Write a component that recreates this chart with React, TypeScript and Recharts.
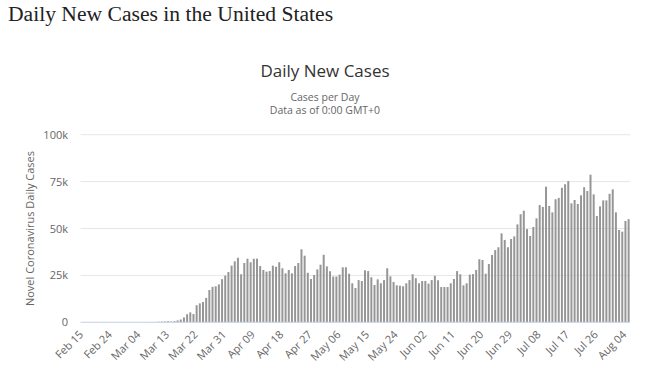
import React from "react";
import { BarChart, Bar, XAxis, YAxis, CartesianGrid } from "recharts";

// Category table: month, first day, last day (Feb 15 2020 .. Aug 05 2020)
const monthSpans: [string, number, number][] = [
  ["Feb", 15, 29],
  ["Mar", 1, 31],
  ["Apr", 1, 30],
  ["May", 1, 31],
  ["Jun", 1, 30],
  ["Jul", 1, 31],
  ["Aug", 1, 5],
];

const dates: string[] = [];
monthSpans.forEach(([m, a, b]) => {
  for (let d = a; d <= b; d++) dates.push(`${m} ${d < 10 ? "0" + d : d}`);
});

// Daily new cases
const cases: number[] = [
  // Feb 15 - Feb 29
  0, 0, 0, 0, 0, 0, 2, 0, 0, 0, 0, 0, 1, 1, 3,
  // Mar 01 - Mar 31
  8, 20, 24, 32, 73, 80, 104, 128, 157, 286, 389, 440, 578, 400, 600, 1000,
  1500, 2600, 4300, 5300, 4400, 9100, 10100, 10800, 13000, 17200, 18900, 19200,
  20200, 23000, 24900,
  // Apr 01 - Apr 30
  26800, 30200, 32500, 34400, 25600, 31600, 33900, 32000, 33900, 33900, 30000,
  27900, 27000, 27300, 30200, 29600, 32000, 28800, 26100, 27900, 26100, 30000,
  31600, 38900, 35500, 26400, 23100, 25200, 28200, 30700,
  // May 01 - May 31
  36000, 29800, 27200, 24400, 24400, 25400, 29300, 29300, 25900, 20800, 18300,
  22500, 22000, 27700, 27300, 24000, 19900, 22900, 20800, 22500, 28800, 24500,
  21500, 19700, 19500, 19200, 20800, 22500, 25600, 23500, 20800,
  // Jun 01 - Jun 30
  22000, 22000, 20600, 22500, 24800, 22400, 18800, 18800, 18800, 20800, 23100,
  27300, 25600, 19700, 20800, 25400, 25700, 27900, 33600, 33200, 25900, 31100,
  35900, 38500, 40000, 47400, 43900, 40000, 44400, 45800,
  // Jul 01 - Jul 31
  52200, 57600, 59500, 49700, 46000, 50800, 55400, 62500, 61500, 72300, 62000,
  58600, 65600, 66300, 71700, 73600, 75300, 63400, 65200, 63100, 67700, 72000,
  70000, 78700, 68200, 56700, 61800, 65000, 65000, 68500, 70900,
  // Aug 01 - Aug 05
  58600, 49200, 48300, 54000, 55000,
];

const yTicks: number[] = [0, 25000, 50000, 75000, 100000];
const yTickLabels: string[] = ["0", "25k", "50k", "75k", "100k"];

const data = dates.map((date, i) => ({ date, cases: cases[i] }));

const FONT = "'Open Sans', sans-serif";

const XTick = (props: any) => {
  const { x, y, payload } = props;
  const px = x + 2;
  const py = y + 13;
  return (
    <text
      x={px}
      y={py}
      transform={`rotate(-45 ${px} ${py})`}
      textAnchor="end"
      fontSize={11}
      fill="#666666"
      fontFamily={FONT}
    >
      {payload.value}
    </text>
  );
};

const YTick = (props: any) => {
  const { y, payload } = props;
  const idx = yTicks.indexOf(payload.value);
  return (
    <text
      x={68}
      y={y + 4}
      textAnchor="end"
      fontSize={11}
      fill="#666666"
      fontFamily={FONT}
    >
      {idx >= 0 ? yTickLabels[idx] : payload.value}
    </text>
  );
};

export default function App() {
  return (
    <div style={{ position: "absolute", left: 0, top: 0, width: 659, height: 372, background: "#fff" }}>
      <div
        style={{
          position: "absolute",
          left: 8,
          top: 2,
          fontFamily: "'Liberation Serif', 'Times New Roman', serif",
          fontSize: 21.6,
          color: "#222",
          whiteSpace: "nowrap",
          lineHeight: "normal",
        }}
      >
        Daily New Cases in the United States
      </div>
      <div style={{ position: "absolute", left: 0, top: 0 }}>
        <BarChart
          width={659}
          height={372}
          data={data}
          margin={{ top: 134.7, right: 29, bottom: 0, left: 20.5 }}
          barCategoryGap="25%"
        >
          <CartesianGrid vertical={false} stroke="#e6e6e6" />
          <XAxis
            dataKey="date"
            interval={8}
            height={49.7}
            tickLine={false}
            tickSize={0}
            tickMargin={0}
            axisLine={{ stroke: "#ccd6eb" }}
            tick={<XTick />}
          />
          <YAxis
            width={60}
            domain={[0, 100000]}
            ticks={yTicks}
            axisLine={false}
            tickLine={false}
            tick={<YTick />}
          />
          <Bar dataKey="cases" fill="#969696" isAnimationActive={false} />
        </BarChart>
      </div>
      <svg
        width={659}
        height={372}
        style={{ position: "absolute", left: 0, top: 0, pointerEvents: "none" }}
      >
        <text x={325} y={77} textAnchor="middle" fontSize={17} fill="#333333" fontFamily={FONT}>
          Daily New Cases
        </text>
        <text x={325} y={100.5} textAnchor="middle" fontSize={10.5} fill="#666666" fontFamily={FONT}>
          Cases per Day
        </text>
        <text x={325} y={114} textAnchor="middle" fontSize={10.5} fill="#666666" fontFamily={FONT}>
          Data as of 0:00 GMT+0
        </text>
        <text
          x={34}
          y={228.5}
          transform="rotate(-90 34 228.5)"
          textAnchor="middle"
          fontSize={11}
          fill="#666666"
          fontFamily={FONT}
        >
          Novel Coronavirus Daily Cases
        </text>
      </svg>
    </div>
  );
}
